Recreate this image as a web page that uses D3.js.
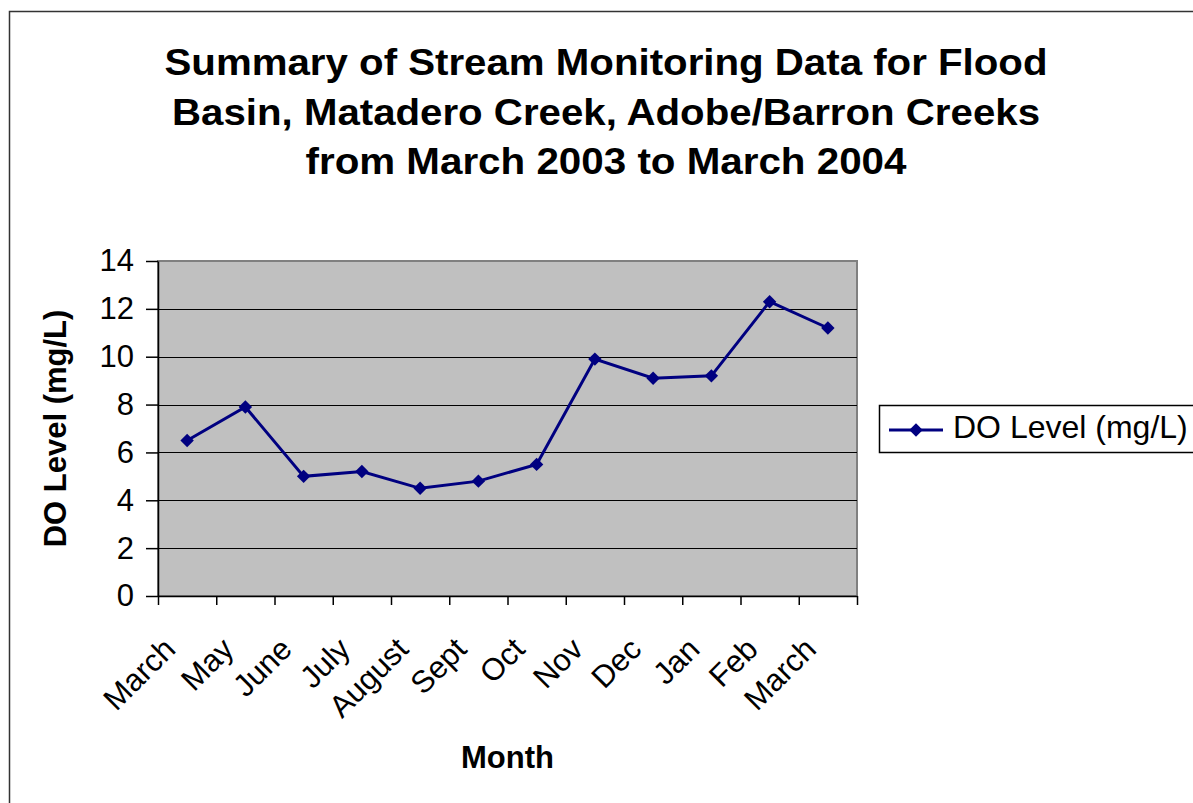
<!DOCTYPE html>
<html>
	<head>
		<title>Stream Monitoring DO Levels</title>
		<style>
			body,
			html {
				margin: 0;
				padding: 0;
				background: #fff;
			}
			svg {
				display: block;
				font-family: 'Liberation Sans', Arial, sans-serif;
			}
		</style>
	</head>
	<body>
		<svg id="svg" width="1193" height="803"></svg>

		<script src="https://d3js.org/d3.v7.min.js"></script>
		<script>
			// data
			const months = ['March', 'May', 'June', 'July', 'August', 'Sept', 'Oct', 'Nov', 'Dec', 'Jan', 'Feb', 'March'];
			const doLevels = [6.5, 7.9, 5.0, 5.2, 4.5, 4.8, 5.5, 9.9, 9.1, 9.2, 12.3, 11.2];
			const yTicks = [0, 2, 4, 6, 8, 10, 12, 14];
			const titleLines = [
				'Summary of Stream Monitoring Data for Flood',
				'Basin, Matadero Creek, Adobe/Barron Creeks',
				'from March 2003 to March 2004'
			];
			const titleWidths = [883, 868, 601];
			const seriesName = 'DO Level (mg/L)';

			const svg = d3.select('#svg');
			const plot = { left: 158, right: 857, top: 261, bottom: 596 };
			const navy = '#000080';
			const fs = 31;

			// outer chart border (runs off the right/bottom edge)
			svg.append('rect')
				.attr('x', 9.5).attr('y', 11.5)
				.attr('width', 1300).attr('height', 900)
				.attr('fill', 'none').attr('stroke', '#333').attr('stroke-width', 1.5);

			// title
			svg.append('g')
				.selectAll('text')
				.data(titleLines)
				.enter()
				.append('text')
				.attr('x', 606)
				.attr('y', (d, i) => 75 + i * 49.5)
				.attr('text-anchor', 'middle')
				.attr('font-size', 37)
				.attr('font-weight', 'bold')
				.attr('textLength', (d, i) => titleWidths[i])
				.attr('lengthAdjust', 'spacingAndGlyphs')
				.text((d) => d);

			const x = d3.scaleLinear().domain([0, months.length]).range([plot.left, plot.right]);
			const y = d3.scaleLinear().domain([0, 14]).range([plot.bottom, plot.top]);

			// plot area
			svg.append('rect')
				.attr('x', plot.left).attr('y', plot.top)
				.attr('width', plot.right - plot.left).attr('height', plot.bottom - plot.top)
				.attr('fill', '#c0c0c0').attr('stroke', '#808080').attr('stroke-width', 2);

			// gridlines
			svg.append('g')
				.selectAll('line')
				.data(yTicks.filter((t) => t > 0 && t < 14))
				.enter()
				.append('line')
				.attr('x1', plot.left).attr('x2', plot.right)
				.attr('y1', (d) => Math.round(y(d)) + 0.5).attr('y2', (d) => Math.round(y(d)) + 0.5)
				.attr('stroke', '#000').attr('stroke-width', 1);

			// y axis
			const leftAxis = d3.axisLeft(y).tickValues(yTicks).tickSize(12).tickPadding(12).tickSizeOuter(0);
			const gy = svg.append('g').attr('transform', `translate(${plot.left}, 0)`).call(leftAxis);
			gy.attr('font-size', fs).attr('font-family', null);
			gy.selectAll('text').attr('fill', '#000');
			gy.selectAll('line, path').attr('stroke', '#000').attr('stroke-width', 1.5);

			// x axis: ticks at category boundaries
			const bottomAxis = d3.axisBottom(x).tickValues(d3.range(months.length + 1)).tickFormat('').tickSize(9).tickSizeOuter(0);
			const gx = svg.append('g').attr('transform', `translate(0, ${plot.bottom})`).call(bottomAxis);
			gx.selectAll('line, path').attr('stroke', '#000').attr('stroke-width', 1.5);

			// rotated category labels
			svg.append('g')
				.selectAll('text')
				.data(months)
				.enter()
				.append('text')
				.attr('transform', (d, i) => `translate(${x(i + 0.5) - 10}, ${plot.bottom + 55}) rotate(-45)`)
				.attr('text-anchor', 'end')
				.attr('font-size', fs)
				.text((d) => d);

			// axis titles
			svg.append('text')
				.attr('x', (plot.left + plot.right) / 2)
				.attr('y', 768)
				.attr('text-anchor', 'middle')
				.attr('font-size', fs)
				.attr('font-weight', 'bold')
				.text('Month');
			svg.append('text')
				.attr('transform', `translate(66, ${(plot.top + plot.bottom) / 2}) rotate(-90)`)
				.attr('text-anchor', 'middle')
				.attr('font-size', fs)
				.attr('font-weight', 'bold')
				.text(seriesName);

			// the series line
			const linegen = d3.line()
				.x((d, i) => x(i + 0.5))
				.y((d) => y(d));
			svg.append('path')
				.attr('d', linegen(doLevels))
				.attr('fill', 'none')
				.attr('stroke', navy)
				.attr('stroke-width', 3);

			const diamond = d3.symbol().type(d3.symbolDiamond2).size(115);
			svg.append('g')
				.selectAll('path')
				.data(doLevels)
				.enter()
				.append('path')
				.attr('d', diamond)
				.attr('transform', (d, i) => `translate(${x(i + 0.5)}, ${y(d)})`)
				.attr('fill', navy);

			// legend
			const legend = svg.append('g').attr('transform', 'translate(879, 405)');
			legend.append('rect')
				.attr('x', 0.5).attr('y', 0.5)
				.attr('width', 400).attr('height', 47)
				.attr('fill', '#fff').attr('stroke', '#000').attr('stroke-width', 1.5);
			legend.append('line')
				.attr('x1', 10).attr('x2', 64).attr('y1', 25).attr('y2', 25)
				.attr('stroke', navy).attr('stroke-width', 3);
			legend.append('path')
				.attr('d', diamond)
				.attr('transform', 'translate(37, 25)')
				.attr('fill', navy);
			legend.append('text')
				.attr('x', 74).attr('y', 33)
				.attr('font-size', 32)
				.text(seriesName);
		</script>
	</body>
</html>
